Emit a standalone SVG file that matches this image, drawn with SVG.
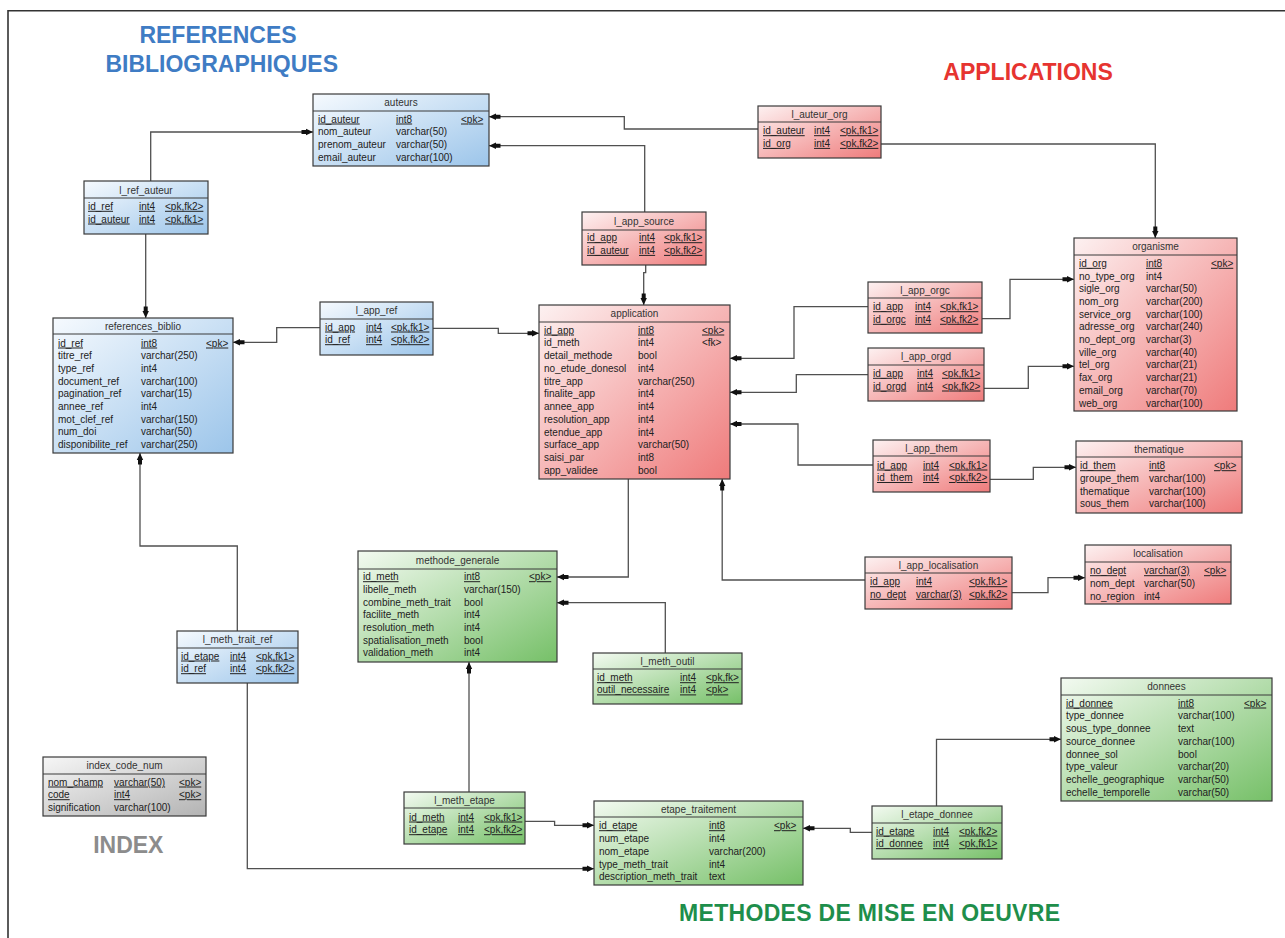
<svg xmlns="http://www.w3.org/2000/svg" width="1285" height="938" viewBox="0 0 1285 938">
<style>
text{font-family:"Liberation Sans",Arial,sans-serif;font-size:10px;fill:#222}
.h{text-anchor:middle;fill:#333}
.u{text-decoration:underline}
.tb{stroke:#3a3a3a;stroke-width:1.2}
.sep{stroke:#3a3a3a;stroke-width:1}
.b{fill:url(#gb)}
.r{fill:url(#gr)}
.g{fill:url(#gg)}
.k{fill:url(#gk)}
.c{fill:none;stroke:#505050;stroke-width:1.3;marker-end:url(#a)}
.ti{font-size:23px;font-weight:bold}
</style>
<defs>
<linearGradient id="gb" x1="0" y1="0" x2="1" y2="1"><stop offset="0" stop-color="#f6fafe"/><stop offset="1" stop-color="#9cc5ea"/></linearGradient>
<linearGradient id="gr" x1="0" y1="0" x2="1" y2="1"><stop offset="0" stop-color="#fdf1f1"/><stop offset="1" stop-color="#ef7b7b"/></linearGradient>
<linearGradient id="gg" x1="0" y1="0" x2="1" y2="1"><stop offset="0" stop-color="#f3faf1"/><stop offset="1" stop-color="#76c068"/></linearGradient>
<linearGradient id="gk" x1="0" y1="0" x2="1" y2="1"><stop offset="0" stop-color="#f6f6f6"/><stop offset="1" stop-color="#b3b3b3"/></linearGradient>
<marker id="a" markerUnits="userSpaceOnUse" markerWidth="14" markerHeight="10" refX="13" refY="5" orient="auto" viewBox="0 0 14 10"><path d="M6,1.8 L13,5 L6,8.2 Z M1.5,3 H6.5 V7 H1.5 Z" fill="#111"/></marker>
</defs>
<rect width="1285" height="938" fill="#fff"/>
<path d="M8,938 V10.7 H1285" fill="none" stroke="#333" stroke-width="1.6"/>

<text class="ti" x="218" y="43.3" text-anchor="middle" style="fill:#3f7cc4">REFERENCES</text>
<text class="ti" x="221.7" y="71.7" text-anchor="middle" style="fill:#3f7cc4">BIBLIOGRAPHIQUES</text>
<text class="ti" x="943.3" y="80" style="fill:#e63430">APPLICATIONS</text>
<text class="ti" x="128.3" y="852.5" text-anchor="middle" style="fill:#8c8c8c">INDEX</text>
<text class="ti" x="679" y="921" textLength="381" style="fill:#1e8e4b">METHODES DE MISE EN OEUVRE</text>

<g id="connectors">
<path class="c" d="M150.7,181 V132 H313"/>
<path class="c" d="M145.7,234 V318"/>
<path class="c" d="M320,327.7 H276.7 V342.3 H233"/>
<path class="c" d="M433,328.3 H498.3 V333.3 H539"/>
<path class="c" d="M758,129 H624.3 V116.7 H489"/>
<path class="c" d="M881,144 H1155.3 V238"/>
<path class="c" d="M644.7,212 V145.7 H489"/>
<path class="c" d="M645.7,265 V272.7 H643.7 V305"/>
<path class="c" d="M868,306.7 H794 V358.3 H730"/>
<path class="c" d="M868,374.7 H796.3 V392.3 H730"/>
<path class="c" d="M873,465 H798 V424 H730"/>
<path class="c" d="M982,318.7 H1010 V279.3 H1074"/>
<path class="c" d="M984,388.3 H1028.3 V366.3 H1074"/>
<path class="c" d="M990,479.3 H1033.3 V467.3 H1076"/>
<path class="c" d="M628.3,479 V577 H557"/>
<path class="c" d="M865,580 H722.2 V479"/>
<path class="c" d="M1012,592.7 H1048 V577.7 H1085"/>
<path class="c" d="M665.3,653 V602.7 H557"/>
<path class="c" d="M237.3,631 V546 H140 V453"/>
<path class="c" d="M247.3,683 V868.7 H594"/>
<path class="c" d="M469,792 V662"/>
<path class="c" d="M525,821.3 H554.6 V825.3 H594"/>
<path class="c" d="M872,832.3 H850.3 V828.3 H803"/>
<path class="c" d="M936.5,806 V739.3 H1061"/>
</g>

<g id="auteurs">
<rect class="tb b" x="313" y="94" width="176" height="72"/>
<line class="sep" x1="313" y1="111" x2="489" y2="111"/>
<text class="h" x="401" y="106">auteurs</text>
<text class="u" x="318" y="122.5">id_auteur</text><text class="u" x="396" y="122.5">int8</text><text class="u" x="461" y="122.5">&lt;pk&gt;</text>
<text x="318" y="135.2">nom_auteur</text><text x="396" y="135.2">varchar(50)</text>
<text x="318" y="147.9">prenom_auteur</text><text x="396" y="147.9">varchar(50)</text>
<text x="318" y="160.6">email_auteur</text><text x="396" y="160.6">varchar(100)</text>
</g>

<g id="l_ref_auteur">
<rect class="tb b" x="84" y="181" width="124" height="53"/>
<line class="sep" x1="84" y1="198" x2="208" y2="198"/>
<text class="h" x="146" y="193.5">l_ref_auteur</text>
<text class="u" x="88" y="209.8">id_ref</text><text class="u" x="139" y="209.8">int4</text><text class="u" x="165" y="209.8">&lt;pk,fk2&gt;</text>
<text class="u" x="88" y="222.5">id_auteur</text><text class="u" x="139" y="222.5">int4</text><text class="u" x="165" y="222.5">&lt;pk,fk1&gt;</text>
</g>

<g id="references_biblio">
<rect class="tb b" x="53" y="318" width="180" height="135"/>
<line class="sep" x1="53" y1="334" x2="233" y2="334"/>
<text class="h" x="143" y="329.5">references_biblio</text>
<text class="u" x="58" y="346.5">id_ref</text><text class="u" x="141" y="346.5">int8</text><text class="u" x="206" y="346.5">&lt;pk&gt;</text>
<text x="58" y="359.2">titre_ref</text><text x="141" y="359.2">varchar(250)</text>
<text x="58" y="371.9">type_ref</text><text x="141" y="371.9">int4</text>
<text x="58" y="384.6">document_ref</text><text x="141" y="384.6">varchar(100)</text>
<text x="58" y="397.3">pagination_ref</text><text x="141" y="397.3">varchar(15)</text>
<text x="58" y="410">annee_ref</text><text x="141" y="410">int4</text>
<text x="58" y="422.7">mot_clef_ref</text><text x="141" y="422.7">varchar(150)</text>
<text x="58" y="435.4">num_doi</text><text x="141" y="435.4">varchar(50)</text>
<text x="58" y="448.1">disponibilite_ref</text><text x="141" y="448.1">varchar(250)</text>
</g>

<g id="l_app_ref">
<rect class="tb b" x="320" y="302" width="113" height="53"/>
<line class="sep" x1="320" y1="319" x2="433" y2="319"/>
<text class="h" x="376.5" y="314">l_app_ref</text>
<text class="u" x="325" y="330.5">id_app</text><text class="u" x="366" y="330.5">int4</text><text class="u" x="391" y="330.5">&lt;pk,fk1&gt;</text>
<text class="u" x="325" y="343.2">id_ref</text><text class="u" x="366" y="343.2">int4</text><text class="u" x="391" y="343.2">&lt;pk,fk2&gt;</text>
</g>

<g id="l_meth_trait_ref">
<rect class="tb b" x="177" y="631" width="121" height="52"/>
<line class="sep" x1="177" y1="648" x2="298" y2="648"/>
<text class="h" x="237.5" y="643">l_meth_trait_ref</text>
<text class="u" x="181" y="659.5">id_etape</text><text class="u" x="230" y="659.5">int4</text><text class="u" x="256" y="659.5">&lt;pk,fk1&gt;</text>
<text class="u" x="181" y="672.2">id_ref</text><text class="u" x="230" y="672.2">int4</text><text class="u" x="256" y="672.2">&lt;pk,fk2&gt;</text>
</g>

<g id="l_auteur_org">
<rect class="tb r" x="758" y="106" width="123" height="52"/>
<line class="sep" x1="758" y1="122" x2="881" y2="122"/>
<text class="h" x="819.5" y="117.5">l_auteur_org</text>
<text class="u" x="763" y="134.2">id_auteur</text><text class="u" x="814" y="134.2">int4</text><text class="u" x="840" y="134.2">&lt;pk,fk1&gt;</text>
<text class="u" x="763" y="146.9">id_org</text><text class="u" x="814" y="146.9">int4</text><text class="u" x="840" y="146.9">&lt;pk,fk2&gt;</text>
</g>

<g id="l_app_source">
<rect class="tb r" x="582" y="212" width="124" height="53"/>
<line class="sep" x1="582" y1="230" x2="706" y2="230"/>
<text class="h" x="644" y="224.5">l_app_source</text>
<text class="u" x="587" y="241.2">id_app</text><text class="u" x="639" y="241.2">int4</text><text class="u" x="664" y="241.2">&lt;pk,fk1&gt;</text>
<text class="u" x="587" y="253.9">id_auteur</text><text class="u" x="639" y="253.9">int4</text><text class="u" x="664" y="253.9">&lt;pk,fk2&gt;</text>
</g>

<g id="application">
<rect class="tb r" x="539" y="305" width="191" height="174"/>
<line class="sep" x1="539" y1="322" x2="730" y2="322"/>
<text class="h" x="634.5" y="317">application</text>
<text class="u" x="544" y="333.5">id_app</text><text class="u" x="638" y="333.5">int8</text><text class="u" x="702" y="333.5">&lt;pk&gt;</text>
<text x="544" y="346.25">id_meth</text><text x="638" y="346.25">int4</text><text x="702" y="346.25">&lt;fk&gt;</text>
<text x="544" y="359">detail_methode</text><text x="638" y="359">bool</text>
<text x="544" y="371.75">no_etude_donesol</text><text x="638" y="371.75">int4</text>
<text x="544" y="384.5">titre_app</text><text x="638" y="384.5">varchar(250)</text>
<text x="544" y="397.25">finalite_app</text><text x="638" y="397.25">int4</text>
<text x="544" y="410">annee_app</text><text x="638" y="410">int4</text>
<text x="544" y="422.75">resolution_app</text><text x="638" y="422.75">int4</text>
<text x="544" y="435.5">etendue_app</text><text x="638" y="435.5">int4</text>
<text x="544" y="448.25">surface_app</text><text x="638" y="448.25">varchar(50)</text>
<text x="544" y="461">saisi_par</text><text x="638" y="461">int8</text>
<text x="544" y="473.75">app_validee</text><text x="638" y="473.75">bool</text>
</g>

<g id="organisme">
<rect class="tb r" x="1074" y="238" width="163" height="173"/>
<line class="sep" x1="1074" y1="255" x2="1237" y2="255"/>
<text class="h" x="1155.5" y="250">organisme</text>
<text class="u" x="1079" y="266.8">id_org</text><text class="u" x="1146" y="266.8">int8</text><text class="u" x="1211" y="266.8">&lt;pk&gt;</text>
<text x="1079" y="279.5">no_type_org</text><text x="1146" y="279.5">int4</text>
<text x="1079" y="292.2">sigle_org</text><text x="1146" y="292.2">varchar(50)</text>
<text x="1079" y="304.9">nom_org</text><text x="1146" y="304.9">varchar(200)</text>
<text x="1079" y="317.6">service_org</text><text x="1146" y="317.6">varchar(100)</text>
<text x="1079" y="330.3">adresse_org</text><text x="1146" y="330.3">varchar(240)</text>
<text x="1079" y="343">no_dept_org</text><text x="1146" y="343">varchar(3)</text>
<text x="1079" y="355.7">ville_org</text><text x="1146" y="355.7">varchar(40)</text>
<text x="1079" y="368.4">tel_org</text><text x="1146" y="368.4">varchar(21)</text>
<text x="1079" y="381.1">fax_org</text><text x="1146" y="381.1">varchar(21)</text>
<text x="1079" y="393.8">email_org</text><text x="1146" y="393.8">varchar(70)</text>
<text x="1079" y="406.5">web_org</text><text x="1146" y="406.5">varchar(100)</text>
</g>

<g id="l_app_orgc">
<rect class="tb r" x="868" y="282" width="114" height="51"/>
<line class="sep" x1="868" y1="298" x2="982" y2="298"/>
<text class="h" x="925" y="293.5">l_app_orgc</text>
<text class="u" x="873" y="310.2">id_app</text><text class="u" x="915" y="310.2">int4</text><text class="u" x="940" y="310.2">&lt;pk,fk1&gt;</text>
<text class="u" x="873" y="322.8">id_orgc</text><text class="u" x="915" y="322.8">int4</text><text class="u" x="940" y="322.8">&lt;pk,fk2&gt;</text>
</g>

<g id="l_app_orgd">
<rect class="tb r" x="868" y="348" width="116" height="53"/>
<line class="sep" x1="868" y1="365" x2="984" y2="365"/>
<text class="h" x="926" y="360">l_app_orgd</text>
<text class="u" x="873" y="376.8">id_app</text><text class="u" x="917" y="376.8">int4</text><text class="u" x="942" y="376.8">&lt;pk,fk1&gt;</text>
<text class="u" x="873" y="389.5">id_orgd</text><text class="u" x="917" y="389.5">int4</text><text class="u" x="942" y="389.5">&lt;pk,fk2&gt;</text>
</g>

<g id="l_app_them">
<rect class="tb r" x="873" y="440" width="117" height="52"/>
<line class="sep" x1="873" y1="456" x2="990" y2="456"/>
<text class="h" x="931.5" y="451.5">l_app_them</text>
<text class="u" x="877" y="468.5">id_app</text><text class="u" x="923" y="468.5">int4</text><text class="u" x="949" y="468.5">&lt;pk,fk1&gt;</text>
<text class="u" x="877" y="481">id_them</text><text class="u" x="923" y="481">int4</text><text class="u" x="949" y="481">&lt;pk,fk2&gt;</text>
</g>

<g id="thematique">
<rect class="tb r" x="1076" y="441" width="166" height="72"/>
<line class="sep" x1="1076" y1="457" x2="1242" y2="457"/>
<text class="h" x="1159" y="452.5">thematique</text>
<text class="u" x="1080" y="469.2">id_them</text><text class="u" x="1149" y="469.2">int8</text><text class="u" x="1214" y="469.2">&lt;pk&gt;</text>
<text x="1080" y="481.9">groupe_them</text><text x="1149" y="481.9">varchar(100)</text>
<text x="1080" y="494.6">thematique</text><text x="1149" y="494.6">varchar(100)</text>
<text x="1080" y="507.3">sous_them</text><text x="1149" y="507.3">varchar(100)</text>
</g>

<g id="l_app_localisation">
<rect class="tb r" x="865" y="557" width="147" height="52"/>
<line class="sep" x1="865" y1="573" x2="1012" y2="573"/>
<text class="h" x="938.5" y="568.5">l_app_localisation</text>
<text class="u" x="870" y="585.2">id_app</text><text class="u" x="916" y="585.2">int4</text><text class="u" x="969" y="585.2">&lt;pk,fk1&gt;</text>
<text class="u" x="870" y="597.8">no_dept</text><text class="u" x="916" y="597.8">varchar(3)</text><text class="u" x="969" y="597.8">&lt;pk,fk2&gt;</text>
</g>

<g id="localisation">
<rect class="tb r" x="1085" y="545" width="146" height="59"/>
<line class="sep" x1="1085" y1="562" x2="1231" y2="562"/>
<text class="h" x="1158" y="557">localisation</text>
<text class="u" x="1090" y="574.2">no_dept</text><text class="u" x="1144" y="574.2">varchar(3)</text><text class="u" x="1204" y="574.2">&lt;pk&gt;</text>
<text x="1090" y="586.8">nom_dept</text><text x="1144" y="586.8">varchar(50)</text>
<text x="1090" y="599.5">no_region</text><text x="1144" y="599.5">int4</text>
</g>

<g id="methode_generale">
<rect class="tb g" x="358" y="551" width="199" height="111"/>
<line class="sep" x1="358" y1="569" x2="557" y2="569"/>
<text class="h" x="457.5" y="563.5">methode_generale</text>
<text class="u" x="363" y="580.2">id_meth</text><text class="u" x="464" y="580.2">int8</text><text class="u" x="529" y="580.2">&lt;pk&gt;</text>
<text x="363" y="592.9">libelle_meth</text><text x="464" y="592.9">varchar(150)</text>
<text x="363" y="605.5">combine_meth_trait</text><text x="464" y="605.5">bool</text>
<text x="363" y="618.2">facilite_meth</text><text x="464" y="618.2">int4</text>
<text x="363" y="630.9">resolution_meth</text><text x="464" y="630.9">int4</text>
<text x="363" y="643.5">spatialisation_meth</text><text x="464" y="643.5">bool</text>
<text x="363" y="656.2">validation_meth</text><text x="464" y="656.2">int4</text>
</g>

<g id="l_meth_outil">
<rect class="tb g" x="593" y="653" width="149" height="51"/>
<line class="sep" x1="593" y1="669" x2="742" y2="669"/>
<text class="h" x="667.5" y="664.5">l_meth_outil</text>
<text class="u" x="597" y="681.2">id_meth</text><text class="u" x="680" y="681.2">int4</text><text class="u" x="706" y="681.2">&lt;pk,fk&gt;</text>
<text class="u" x="597" y="693.4">outil_necessaire</text><text class="u" x="680" y="693.4">int4</text><text class="u" x="706" y="693.4">&lt;pk&gt;</text>
</g>

<g id="donnees">
<rect class="tb g" x="1061" y="678" width="211" height="123"/>
<line class="sep" x1="1061" y1="695" x2="1272" y2="695"/>
<text class="h" x="1166.5" y="690">donnees</text>
<text class="u" x="1066" y="706.5">id_donnee</text><text class="u" x="1178" y="706.5">int8</text><text class="u" x="1244" y="706.5">&lt;pk&gt;</text>
<text x="1066" y="719.25">type_donnee</text><text x="1178" y="719.25">varchar(100)</text>
<text x="1066" y="732">sous_type_donnee</text><text x="1178" y="732">text</text>
<text x="1066" y="744.75">source_donnee</text><text x="1178" y="744.75">varchar(100)</text>
<text x="1066" y="757.5">donnee_sol</text><text x="1178" y="757.5">bool</text>
<text x="1066" y="770.25">type_valeur</text><text x="1178" y="770.25">varchar(20)</text>
<text x="1066" y="783">echelle_geographique</text><text x="1178" y="783">varchar(50)</text>
<text x="1066" y="795.75">echelle_temporelle</text><text x="1178" y="795.75">varchar(50)</text>
</g>

<g id="l_meth_etape">
<rect class="tb g" x="404" y="792" width="121" height="52"/>
<line class="sep" x1="404" y1="808" x2="525" y2="808"/>
<text class="h" x="464.5" y="803.5">l_meth_etape</text>
<text class="u" x="409" y="820.5">id_meth</text><text class="u" x="458" y="820.5">int4</text><text class="u" x="484" y="820.5">&lt;pk,fk1&gt;</text>
<text class="u" x="409" y="833.2">id_etape</text><text class="u" x="458" y="833.2">int4</text><text class="u" x="484" y="833.2">&lt;pk,fk2&gt;</text>
</g>

<g id="etape_traitement">
<rect class="tb g" x="594" y="801" width="209" height="84"/>
<line class="sep" x1="594" y1="817" x2="803" y2="817"/>
<text class="h" x="698.5" y="812.5">etape_traitement</text>
<text class="u" x="599" y="829.2">id_etape</text><text class="u" x="709" y="829.2">int8</text><text class="u" x="774" y="829.2">&lt;pk&gt;</text>
<text x="599" y="842">num_etape</text><text x="709" y="842">int4</text>
<text x="599" y="854.8">nom_etape</text><text x="709" y="854.8">varchar(200)</text>
<text x="599" y="867.6">type_meth_trait</text><text x="709" y="867.6">int4</text>
<text x="599" y="880.4">description_meth_trait</text><text x="709" y="880.4">text</text>
</g>

<g id="l_etape_donnee">
<rect class="tb g" x="872" y="806" width="130" height="53"/>
<line class="sep" x1="872" y1="823" x2="1002" y2="823"/>
<text class="h" x="937" y="818">l_etape_donnee</text>
<text class="u" x="876" y="834.5">id_etape</text><text class="u" x="933" y="834.5">int4</text><text class="u" x="959" y="834.5">&lt;pk,fk2&gt;</text>
<text class="u" x="876" y="847.2">id_donnee</text><text class="u" x="933" y="847.2">int4</text><text class="u" x="959" y="847.2">&lt;pk,fk1&gt;</text>
</g>

<g id="index_code_num">
<rect class="tb k" x="43" y="757" width="163" height="59"/>
<line class="sep" x1="43" y1="774" x2="206" y2="774"/>
<text class="h" x="124.5" y="769">index_code_num</text>
<text class="u" x="48" y="785.5">nom_champ</text><text class="u" x="114" y="785.5">varchar(50)</text><text class="u" x="179" y="785.5">&lt;pk&gt;</text>
<text class="u" x="48" y="798.2">code</text><text class="u" x="114" y="798.2">int4</text><text class="u" x="179" y="798.2">&lt;pk&gt;</text>
<text x="48" y="810.8">signification</text><text x="114" y="810.8">varchar(100)</text>
</g>
</svg>
